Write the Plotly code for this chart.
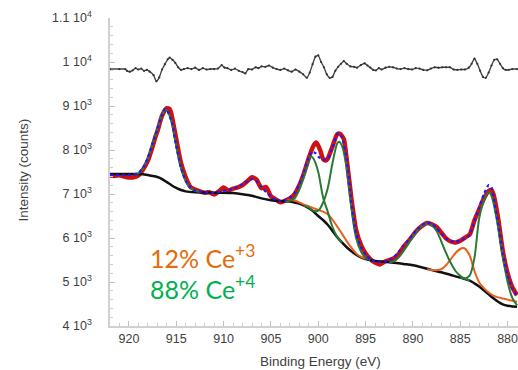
import plotly.graph_objects as go

# ---------------- data ----------------
# Binding energies (eV) and intensities (counts)
data_E = [922, 921.5, 921, 920.5, 920, 919.5, 919, 918.5, 918, 917.5, 917.2, 917, 916.5, 916.0, 915.7, 915.5,
          915, 914.5, 914, 913.5, 913, 912.5, 912, 911.5, 911, 910.5, 910, 909.5, 909, 908.5, 908, 907.5, 907,
          906.5, 906, 905.5, 905, 904.5, 904, 903.5, 903, 902.5, 902, 901.5, 901, 900.5, 900.2, 899.8, 899.5,
          899.2, 899, 898.5, 898, 897.7, 897.3, 897, 896.5, 896, 895.5, 895, 894.5, 894, 893.5, 893, 892.5,
          892, 891.5, 891, 890.5, 890, 889.5, 889, 888.5, 888, 887.5, 887, 886.5, 886, 885.5, 885, 884.5, 884,
          883.5, 883, 882.5, 882, 881.7, 881.5, 881, 880.5, 880, 879.5, 879]
data_I = [7420, 7410, 7425, 7395, 7375, 7380, 7420, 7560, 7760, 8080, 8300, 8420, 8780, 8950, 8930, 8800,
          8250, 7700, 7380, 7160, 7100, 7060, 7030, 7040, 6990, 7060, 7150, 7080, 7120, 7150, 7200, 7290, 7380,
          7320, 7130, 7160, 6950, 6880, 6810, 6850, 6900, 7000, 7200, 7480, 7820, 8100, 8170, 8000, 7800,
          7760, 7800, 8080, 8360, 8370, 8250, 7800, 6900, 6180, 5850, 5650, 5520, 5440, 5400, 5460, 5500,
          5540, 5640, 5800, 5920, 6060, 6190, 6280, 6340, 6310, 6250, 6120, 5990, 5920, 5900, 5940, 6010, 6080,
          6400, 6650, 6900, 7070, 7090, 7000, 6450, 5700, 5200, 4880, 4700]

fit_E = [922, 921, 920, 919.5, 919, 918.5, 918, 917.5, 917, 916.5, 916.2, 916, 915.5, 915, 914.5, 914, 913.5,
         913, 912, 911, 910, 909, 908, 907, 906.5, 906, 905.5, 905, 904.5, 904, 903.5, 903, 902.5, 902, 901.5,
         901, 900.7, 900.3, 900, 899.5, 899, 898.5, 898, 897.8, 897.5, 897, 896.5, 896, 895.5, 895, 894.5, 894,
         893.5, 893, 892.5, 892, 891.5, 891, 890.5, 890, 889.5, 889, 888.5, 888, 887.5, 887, 886.5, 886, 885.5,
         885, 884.5, 884, 883.5, 883, 882.5, 882, 881.7, 881.5, 881, 880.5, 880, 879.5, 879]
fit_I = [7430, 7430, 7432, 7440, 7480, 7600, 7818, 8150, 8470, 8800, 8930, 8910, 8650, 8100, 7600, 7300, 7150,
         7080, 7040, 7030, 7070, 7120, 7220, 7340, 7280, 7160, 7040, 6940, 6870, 6845, 6860, 6920, 7020, 7230, 7520,
         7820, 7960, 7930, 7850, 7780, 7800, 8050, 8360, 8380, 8300, 7800, 6800, 6100, 5800, 5620, 5510, 5470,
         5460, 5465, 5490, 5570, 5680, 5820, 5950, 6080, 6200, 6300, 6345, 6320, 6220, 6100, 5990, 5930, 5910,
         5940, 5990, 6060, 6380, 6700, 7000, 7200, 7150, 6950, 6330, 5650, 5150, 4850, 4680]

bg_E = [922, 919, 918.5, 918, 917.5, 917, 916.5, 916, 915.5, 915, 914.5, 914, 913, 912, 911, 910, 909, 908,
        907, 906, 905, 904, 903, 902, 901, 900.5, 900, 899.5, 899, 898.5, 898, 897.5, 897, 896.5, 896, 895.5,
        895, 894, 893, 892, 891, 890, 889, 888, 887, 886, 885, 884, 883.5, 883, 882.5, 882, 881.5, 881, 880.5,
        880, 879.5, 879]
bg_I = [7455, 7455, 7450, 7430, 7410, 7385, 7340, 7270, 7200, 7140, 7090, 7060, 7040, 7035, 7030, 7030, 7020,
        6995, 6960, 6900, 6860, 6840, 6830, 6780, 6680, 6600, 6500, 6410, 6300, 6160, 6020, 5900, 5790, 5700,
        5620, 5560, 5520, 5480, 5460, 5440, 5410, 5380, 5330, 5270, 5220, 5160, 5100, 5030, 4970, 4900, 4810,
        4720, 4630, 4550, 4490, 4460, 4445, 4440]

# Ce4+ components (green), each drawn on top of the background
g1_E = [919.5, 919, 918.5, 918, 917.5, 917, 916.5, 916.2, 916, 915.5, 915, 914.5, 914, 913.5, 913, 912.5]
g1_I = [7445, 7470, 7590, 7810, 8140, 8460, 8790, 8920, 8900, 8640, 8090, 7590, 7290, 7140, 7070, 7045]
g3_E = [903.5, 903, 902.5, 902, 901.5, 901, 900.8, 900.5, 900, 899.5, 899, 898.5, 898, 897.5]
g3_I = [6835, 6850, 6900, 7100, 7400, 7760, 7860, 7800, 7500, 6930, 6600, 6250, 6030, 5900]
g4_E = [901.5, 901, 900.5, 900, 899.5, 899, 898.5, 898, 897.8, 897.5, 897, 896.5, 896, 895.5, 895, 894.5]
g4_I = [6735, 6690, 6620, 6620, 6800, 7130, 7700, 8150, 8190, 8100, 7600, 6700, 6000, 5700, 5550, 5500]
g5_E = [892.5, 892, 891.5, 891, 890.5, 890, 889.5, 889, 888.5, 888, 887.5, 887, 886.5, 886, 885.5, 885, 884.5, 884]
g5_I = [5450, 5470, 5560, 5700, 5860, 6030, 6170, 6280, 6330, 6290, 6160, 5920, 5660, 5430, 5250, 5140, 5075, 5035]
g6_E = [885, 884.5, 884, 883.5, 883, 882.5, 882, 881.7, 881.5, 881, 880.5, 880, 879.5, 879]
g6_I = [5100, 5080, 5150, 5550, 6450, 6850, 7050, 6960, 6800, 6250, 5580, 5000, 4640, 4470]

# Ce3+ components (orange)
o1_E = [903.5, 903, 902.5, 902, 901.5, 901, 900.5, 900, 899.5, 899, 898.5, 898, 897.5, 897, 896.5, 896, 895.5, 895]
o1_I = [6845, 6860, 6850, 6810, 6760, 6720, 6680, 6640, 6600, 6540, 6420, 6260, 6100, 5930, 5780, 5650, 5570, 5530]
o2_E = [888.5, 888, 887.5, 887, 886.5, 886, 885.5, 885, 884.7, 884.5, 884, 883.5, 883, 882.5, 882, 881.5, 881,
        880.5, 880, 879.5, 879]
o2_I = [5290, 5275, 5270, 5290, 5380, 5520, 5660, 5750, 5770, 5760, 5600, 5250, 4990, 4860, 4760, 4690, 4650,
        4625, 4600, 4575, 4553]

# residual (offset trace at top)
res_E = [922, 921, 920.4, 920.2, 919.9, 919.6, 919.3, 919.0, 918.7, 918.4, 918.1, 917.8, 917.4, 917.1, 916.8,
         916.5, 916.2, 915.9, 915.7, 915.4, 915.1, 914.8, 914.5, 914.2, 913.8, 913.4, 913.0, 912.6, 912.2, 911.8,
         911.4, 911.0, 910.6, 910.2, 909.9, 909.6, 909.2, 908.8, 908.4, 908.0, 907.7, 907.4, 907.0, 906.6, 906.3,
         906.0, 905.6, 905.2, 904.8, 904.4, 904.0, 903.6, 903.2, 902.8, 902.4, 902.0, 901.6, 901.2, 900.9, 900.6,
         900.3, 900.0, 899.7, 899.4, 899.1, 898.8, 898.5, 898.2, 897.9, 897.6, 897.3, 897.0, 896.6, 896.2, 895.9,
         895.5, 895.1, 894.8, 894.5, 894.2, 893.9, 893.6, 893.3, 892.9, 892.5, 892.1, 891.7, 891.3, 890.9, 890.5,
         890.1, 889.7, 889.3, 888.9, 888.5, 888.1, 887.7, 887.3, 886.9, 886.5, 886.1, 885.7, 885.3, 884.9, 884.5,
         884.1, 883.8, 883.5, 883.2, 882.9, 882.6, 882.3, 882.0, 881.7, 881.4, 881.1, 880.8, 880.5, 880.2, 879.9,
         879.5, 879.0]
res_I = [9840, 9840, 9840, 9800, 9780, 9810, 9860, 9830, 9850, 9800, 9820, 9780, 9700, 9560, 9650,
         9830, 9950, 10060, 10100, 10050, 9980, 9880, 9820, 9840, 9860, 9840, 9870, 9820, 9860, 9830,
         9840, 9840, 9850, 9930, 9870, 9860, 9820, 9850, 9800, 9770, 9740, 9840, 9830, 9880, 9860,
         9900, 9890, 9920, 9870, 9840, 9820, 9850, 9810, 9780, 9830, 9780, 9720, 9640, 9760, 9950,
         10120, 10150, 10000, 9880, 9720, 9640, 9660, 9800, 9890, 9960, 10020, 9960, 9900, 9890, 9870,
         9930, 9970, 9920, 9870, 9820, 9810, 9860, 9830, 9870, 9890, 9880, 9850, 9840, 9860, 9840,
         9830, 9860, 9850, 9820, 9810, 9850, 9880, 9870, 9880, 9880, 9880, 9830, 9820, 9830, 9830,
         9870, 9960, 10080, 9960, 9800, 9660, 9640, 9760, 9920, 10050, 10060, 9960, 9860, 9820, 9820,
         9840, 9840]

y_tickvals = [4000, 5000, 6000, 7000, 8000, 9000, 10000, 11000]
y_ticktext = ["4 10<sup>3</sup>", "5 10<sup>3</sup>", "6 10<sup>3</sup>", "7 10<sup>3</sup>",
              "8 10<sup>3</sup>", "9 10<sup>3</sup>", "1 10<sup>4</sup>", "1.1 10<sup>4</sup>"]
x_tickvals = [920, 915, 910, 905, 900, 895, 890, 885, 880]

# ---------------- figure ----------------
GREEN = "#2a7a35"
ORANGE = "#e8601c"

fig = go.Figure()

fig.add_trace(go.Scatter(x=res_E, y=res_I, mode="lines+markers",
                         line=dict(color="#444444", width=1.4, shape="spline", smoothing=0.5),
                         marker=dict(size=2.2, color="#333333")))
fig.add_trace(go.Scatter(x=data_E, y=data_I, mode="lines",
                         line=dict(color="#d01010", width=4.5, shape="spline", smoothing=0.6)))
fig.add_trace(go.Scatter(x=bg_E, y=bg_I, mode="lines",
                         line=dict(color="#111111", width=2.5, shape="spline", smoothing=0.8)))
for xe, yi in [(o1_E, o1_I), (o2_E, o2_I)]:
    fig.add_trace(go.Scatter(x=xe, y=yi, mode="lines",
                             line=dict(color=ORANGE, width=2, shape="spline", smoothing=0.8)))
for xe, yi in [(g1_E, g1_I), (g3_E, g3_I), (g4_E, g4_I), (g5_E, g5_I), (g6_E, g6_I)]:
    fig.add_trace(go.Scatter(x=xe, y=yi, mode="lines",
                             line=dict(color=GREEN, width=2, shape="spline", smoothing=0.8)))
fig.add_trace(go.Scatter(x=fit_E, y=fit_I, mode="lines",
                         line=dict(color="#1a1aff", width=2.2, dash="dot", shape="spline", smoothing=0.6)))

tickfont = dict(family="Liberation Sans, Arial, sans-serif", size=12.5, color="#404040")

fig.update_layout(
    width=518, height=370,
    margin=dict(l=110, r=0, t=18, b=44),
    paper_bgcolor="white", plot_bgcolor="white",
    showlegend=False,
    xaxis=dict(range=[922, 878.9], tickvals=x_tickvals, ticks="inside", ticklen=5, tickcolor="#bfbfbf",
               showline=True, linecolor="#d0d0d0", linewidth=1.5, showgrid=False, zeroline=False,
               tickfont=tickfont, ticklabeloverflow="allow",
               minor=dict(dtick=1, ticks="inside", ticklen=3, tickcolor="#cfcfcf")),
    yaxis=dict(range=[4000, 11000], tickvals=y_tickvals, ticktext=y_ticktext, ticks="inside", ticklen=5,
               tickcolor="#bfbfbf", showline=True, linecolor="#d0d0d0", linewidth=1.5, showgrid=False,
               zeroline=False, tickfont=tickfont, ticklabelstandoff=14, ticklabeloverflow="allow",
               minor=dict(dtick=200, ticks="inside", ticklen=3, tickcolor="#cfcfcf")),
    annotations=[
        dict(text="Binding Energy (eV)", xref="paper", yref="paper", x=0.515, y=-0.115,
             xanchor="center", yanchor="middle", showarrow=False,
             font=dict(family="Liberation Sans, Arial, sans-serif", size=13.5, color="#404040")),
        dict(text="Intensity (counts)", xref="paper", yref="paper", x=-0.213, y=0.505, textangle=-90,
             xanchor="center", yanchor="middle", showarrow=False,
             font=dict(family="Liberation Sans, Arial, sans-serif", size=13.5, color="#404040")),
        dict(text="12% Ce<sup>+3</sup>", xref="paper", yref="paper", x=0.094, y=0.225,
             xanchor="left", yanchor="middle", showarrow=False,
             font=dict(family="Lato, sans-serif", size=25, color="#e36c09")),
        dict(text="88% Ce<sup>+4</sup>", xref="paper", yref="paper", x=0.094, y=0.125,
             xanchor="left", yanchor="middle", showarrow=False,
             font=dict(family="Lato, sans-serif", size=25, color="#00b050")),
    ],
)

fig.write_html("out.html")
